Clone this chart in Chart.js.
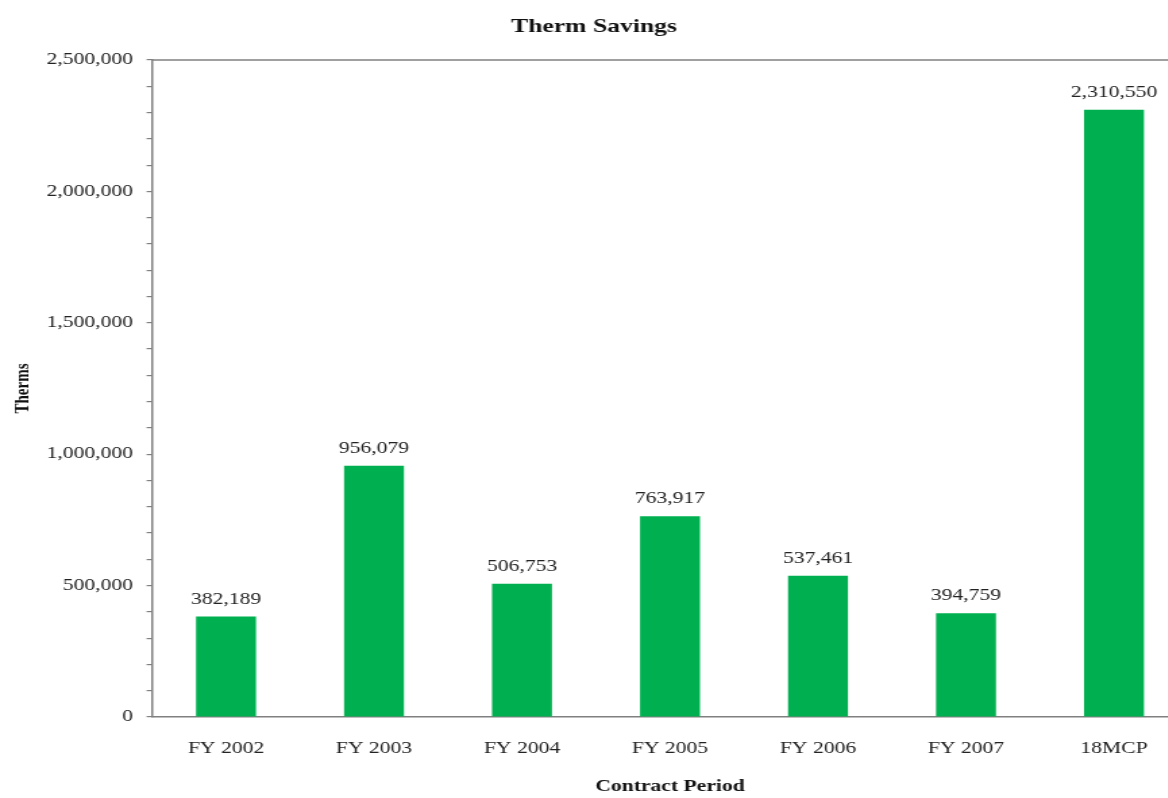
<!DOCTYPE html>
<html>
<head>
<meta charset="utf-8">
<script src="https://cdn.jsdelivr.net/npm/chart.js@4"></script>
<style>
  html, body { margin: 0; padding: 0; background: #fff; overflow: hidden; }
  #wrap { width: 1168px; height: 798px; overflow: hidden; }
  /* the chart is drawn narrow and stretched sideways, like the wide serif print it mimics */
  #myChart { transform: scaleX(1.35); transform-origin: 0 0; }
</style>
</head>
<body>
<div id="wrap"><canvas id="myChart" width="884" height="798"></canvas></div>
<script>
const PERIODS = ["FY 2002", "FY 2003", "FY 2004", "FY 2005", "FY 2006", "FY 2007", "18MCP"];
const THERMS = [382189, 956079, 506753, 763917, 537461, 394759, 2310550];
const Y_MAX = 2500000;
const Y_STEP = 100000;
const Y_LABEL_STEP = 500000;

const AXIS_GRAY = "#808080";
const SERIF = "'Liberation Serif', 'Times New Roman', serif";

Chart.defaults.font.family = SERIF;
Chart.defaults.color = "#222";

// value labels over each bar
const barValues = {
  id: "barValues",
  afterDatasetsDraw(chart) {
    const ctx = chart.ctx;
    const meta = chart.getDatasetMeta(0);
    ctx.save();
    ctx.font = "16px " + SERIF;
    ctx.fillStyle = "#222";
    ctx.textAlign = "center";
    ctx.textBaseline = "middle";
    meta.data.forEach(function(bar, i) {
      ctx.fillText(THERMS[i].toLocaleString("en-US"), bar.x, bar.y - 17);
    });
    ctx.restore();
  }
};

// line along the top of the plot
const topRule = {
  id: "topRule",
  afterDraw(chart) {
    const a = chart.chartArea;
    const ctx = chart.ctx;
    ctx.save();
    ctx.strokeStyle = AXIS_GRAY;
    ctx.lineWidth = 1.5;
    ctx.beginPath();
    ctx.moveTo(a.left, a.top);
    ctx.lineTo(a.right + 10, a.top);
    ctx.stroke();
    ctx.restore();
  }
};

const data = {
  labels: PERIODS,
  datasets: [
    {
      label: "Therms",
      data: THERMS,
      backgroundColor: "#00b050",
      borderWidth: 0,
      categoryPercentage: 1.0,
      barPercentage: 0.405
    }
  ]
};

const config = {
  type: "bar",
  data: data,
  plugins: [barValues, topRule],
  options: {
    responsive: false,
    animation: false,
    devicePixelRatio: 1,
    layout: { padding: { left: 0, right: 4, top: 0, bottom: 0 } },
    plugins: {
      legend: { display: false },
      tooltip: { enabled: false },
      title: {
        display: true,
        text: "Therm Savings",
        color: "#111",
        font: { size: 19, weight: "bold", family: SERIF },
        padding: { top: 16, bottom: 21.2 }
      }
    },
    scales: {
      x: {
        afterFit(scale) { scale.height = 81; },
        grid: { display: false, drawTicks: false },
        border: { color: AXIS_GRAY, width: 1.5 },
        ticks: { padding: 22, color: "#222", font: { size: 16 } },
        title: {
          display: true,
          text: "Contract Period",
          color: "#111",
          font: { size: 16, weight: "bold" },
          padding: { top: 0, bottom: 1.5 }
        }
      },
      y: {
        min: 0,
        max: Y_MAX,
        afterFit(scale) { scale.width = 112.6; },
        grid: { drawOnChartArea: false, tickLength: 4, color: AXIS_GRAY, lineWidth: 1.2 },
        border: { color: AXIS_GRAY, width: 1.5 },
        ticks: {
          stepSize: Y_STEP,
          maxTicksLimit: 40,
          autoSkip: false,
          padding: 10,
          color: "#222",
          font: { size: 16 },
          callback: function(v) {
            return v % Y_LABEL_STEP === 0 ? v.toLocaleString("en-US") : "";
          }
        },
        title: {
          display: true,
          text: "Therms",
          color: "#111",
          font: { size: 15, weight: "bold" },
          padding: { top: 8, bottom: 0 }
        }
      }
    }
  }
};

const myChart = new Chart(document.getElementById("myChart"), config);
</script>
</body>
</html>
